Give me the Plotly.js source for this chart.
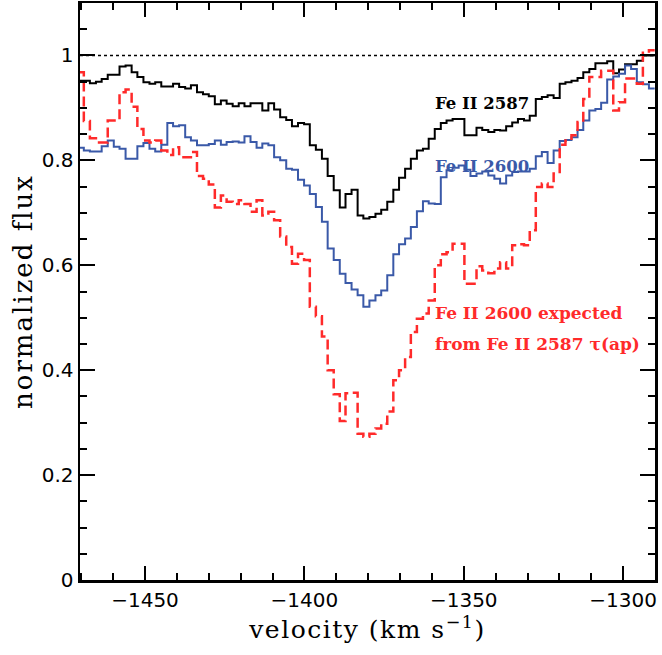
<!DOCTYPE html>
<html>
<head>
<meta charset="utf-8">
<script src="https://cdn.plot.ly/plotly-3.0.1.min.js"></script>
<style>
html,body{margin:0;padding:0;background:#fff;}
#chart{width:662px;height:655px;}
.xtitle{letter-spacing:1.5px;}
.ytitle{letter-spacing:2px;}
</style>
</head>
<body>
<div id="chart"></div>
<script>
// bin left edges (km/s); last value is the right edge of the final bin
const velocity = [
 -1471.0,-1469.2,-1467.3,-1465.4,-1463.6,-1461.7,-1459.8,-1458.0,-1456.1,-1454.2,
 -1452.4,-1450.5,-1448.6,-1446.8,-1444.9,-1443.0,-1441.2,-1439.3,-1437.4,-1435.6,
 -1433.7,-1431.8,-1430.0,-1428.1,-1426.2,-1424.4,-1422.5,-1420.6,-1418.8,-1416.9,
 -1415.0,-1413.2,-1411.3,-1409.5,-1407.6,-1405.7,-1403.9,-1402.0,-1400.1,-1398.3,
 -1396.4,-1394.5,-1392.7,-1390.8,-1388.9,-1387.1,-1385.2,-1383.3,-1381.5,-1379.6,
 -1377.7,-1375.9,-1374.0,-1372.1,-1370.3,-1368.4,-1366.6,-1364.7,-1362.8,-1361.0,
 -1359.1,-1357.2,-1355.4,-1353.5,-1351.6,-1349.8,-1347.9,-1346.0,-1344.2,-1342.3,
 -1340.4,-1338.6,-1336.7,-1334.8,-1333.0,-1331.1,-1329.3,-1327.4,-1325.5,-1323.7,
 -1321.8,-1319.9,-1318.1,-1316.2,-1314.3,-1312.5,-1310.6,-1308.7,-1306.9,-1305.0,
 -1303.1,-1301.3,-1299.4,-1297.5,-1295.7,-1293.8,-1291.9,-1290.1
];
const feII2587 = [
 0.952,0.952,0.947,0.950,0.955,0.963,0.963,0.979,0.981,0.968,
 0.959,0.949,0.946,0.949,0.941,0.941,0.946,0.940,0.937,0.943,
 0.930,0.926,0.922,0.907,0.914,0.908,0.903,0.909,0.903,0.909,
 0.909,0.895,0.909,0.897,0.882,0.877,0.865,0.871,0.869,0.829,
 0.820,0.803,0.770,0.743,0.710,0.736,0.744,0.695,0.689,0.692,
 0.698,0.706,0.721,0.744,0.767,0.784,0.803,0.819,0.822,0.841,
 0.860,0.871,0.876,0.879,0.879,0.848,0.848,0.862,0.858,0.854,
 0.858,0.857,0.865,0.872,0.879,0.876,0.885,0.917,0.921,0.924,
 0.919,0.946,0.949,0.952,0.957,0.968,0.974,0.985,0.985,0.989,
 0.966,0.973,0.983,0.983,0.990,1.000,1.000
];
const feII2600 = [
 0.824,0.819,0.817,0.817,0.827,0.838,0.826,0.822,0.803,0.803,
 0.827,0.833,0.822,0.817,0.830,0.871,0.865,0.867,0.844,0.838,
 0.829,0.829,0.831,0.838,0.830,0.835,0.836,0.834,0.846,0.835,
 0.824,0.832,0.829,0.806,0.800,0.784,0.782,0.763,0.752,0.736,
 0.711,0.683,0.632,0.610,0.584,0.566,0.554,0.543,0.521,0.533,
 0.543,0.552,0.581,0.621,0.640,0.651,0.673,0.703,0.722,0.718,
 0.717,0.768,0.781,0.786,0.790,0.782,0.770,0.775,0.779,0.771,
 0.765,0.756,0.771,0.778,0.779,0.779,0.784,0.808,0.816,0.795,
 0.819,0.837,0.839,0.844,0.858,0.876,0.895,0.898,0.910,0.954,
 0.960,0.965,0.981,0.974,0.949,0.945,0.937
];
const feII2600Expected = [
 0.968,0.875,0.842,0.834,0.834,0.876,0.876,0.930,0.935,0.902,
 0.860,0.838,0.834,0.838,0.819,0.810,0.825,0.806,0.806,0.816,
 0.770,0.765,0.754,0.710,0.733,0.721,0.717,0.724,0.717,0.702,
 0.724,0.695,0.702,0.686,0.655,0.635,0.603,0.622,0.610,0.521,
 0.503,0.464,0.400,0.354,0.303,0.356,0.357,0.279,0.273,0.279,
 0.289,0.298,0.321,0.381,0.400,0.425,0.473,0.498,0.508,0.533,
 0.600,0.621,0.625,0.641,0.641,0.565,0.565,0.598,0.590,0.585,
 0.594,0.606,0.594,0.638,0.640,0.638,0.667,0.749,0.756,0.749,
 0.775,0.830,0.838,0.848,0.873,0.917,0.959,0.959,0.971,0.971,
 0.895,0.911,0.956,0.956,0.946,1.005,1.010
];
const xTickVals = [-1450,-1400,-1350,-1300];
const yTickVals = [0,0.2,0.4,0.6,0.8,1];
const labels = ["Fe II 2587","Fe II 2600","Fe II 2600 expected","from Fe II 2587 \u03c4(ap)"];

function stepY(vals){ return vals.concat([vals[vals.length-1]]); }

const traces = [
 {x: velocity, y: stepY(feII2587), mode:'lines', line:{shape:'hv', color:'#000000', width:2}, hoverinfo:'skip'},
 {x: velocity, y: stepY(feII2600), mode:'lines', line:{shape:'hv', color:'#3a59a8', width:2}, hoverinfo:'skip'},
 {x: velocity, y: stepY(feII2600Expected), mode:'lines', line:{shape:'hv', color:'#ff2a2a', width:2.5, dash:'10px,5px'}, hoverinfo:'skip'}
];

const axisCommon = {
 showgrid:false, zeroline:false, showline:true, linecolor:'#000', linewidth:2.5,
 mirror:'ticks', ticks:'inside', tickcolor:'#000', tickwidth:2,
 tickfont:{family:'DejaVu Sans', size:20, color:'#000'}
};

const layout = {
 width:662, height:655,
 margin:{l:80, r:7, t:3, b:75},
 paper_bgcolor:'#fff', plot_bgcolor:'#fff',
 showlegend:false,
 xaxis: Object.assign({}, axisCommon, {
   range:[-1470.4,-1290.0], tickvals:xTickVals, ticklen:14,
   minor:{dtick:10, tick0:-1450, ticks:'inside', ticklen:7, tickwidth:2, tickcolor:'#000'},
   title:{text:'velocity (km s<sup>\u22121</sup>)', font:{family:'DejaVu Serif', size:25, color:'#000'}, standoff:9}
 }),
 yaxis: Object.assign({}, axisCommon, {
   range:[0,1.1], tickvals:yTickVals, ticklen:15,
   minor:{dtick:0.05, tick0:0, ticks:'inside', ticklen:7, tickwidth:2, tickcolor:'#000'},
   title:{text:'normalized flux', font:{family:'DejaVu Serif', size:26, color:'#000'}, standoff:2}
 }),
 shapes:[{type:'line', xref:'paper', x0:0, x1:1, yref:'y', y0:1, y1:1, line:{color:'#000', width:1.5, dash:'dot'}}],
 annotations:[
  {text:labels[0], x:-1359.7, y:0.909, xref:'x', yref:'y', xanchor:'left', yanchor:'middle', showarrow:false, font:{family:'DejaVu Serif', size:16.5, color:'#000', weight:'bold'}},
  {text:labels[1], x:-1359.7, y:0.789, xref:'x', yref:'y', xanchor:'left', yanchor:'middle', showarrow:false, font:{family:'DejaVu Serif', size:16.5, color:'#3a59a8', weight:'bold'}},
  {text:labels[2], x:-1359.7, y:0.509, xref:'x', yref:'y', xanchor:'left', yanchor:'middle', showarrow:false, font:{family:'DejaVu Serif', size:17, color:'#ff2a2a', weight:'bold'}},
  {text:labels[3], x:-1359.7, y:0.450, xref:'x', yref:'y', xanchor:'left', yanchor:'middle', showarrow:false, font:{family:'DejaVu Serif', size:17, color:'#ff2a2a', weight:'bold'}}
 ]
};

Plotly.newPlot('chart', traces, layout, {staticPlot:true, displayModeBar:false});
</script>
</body>
</html>
